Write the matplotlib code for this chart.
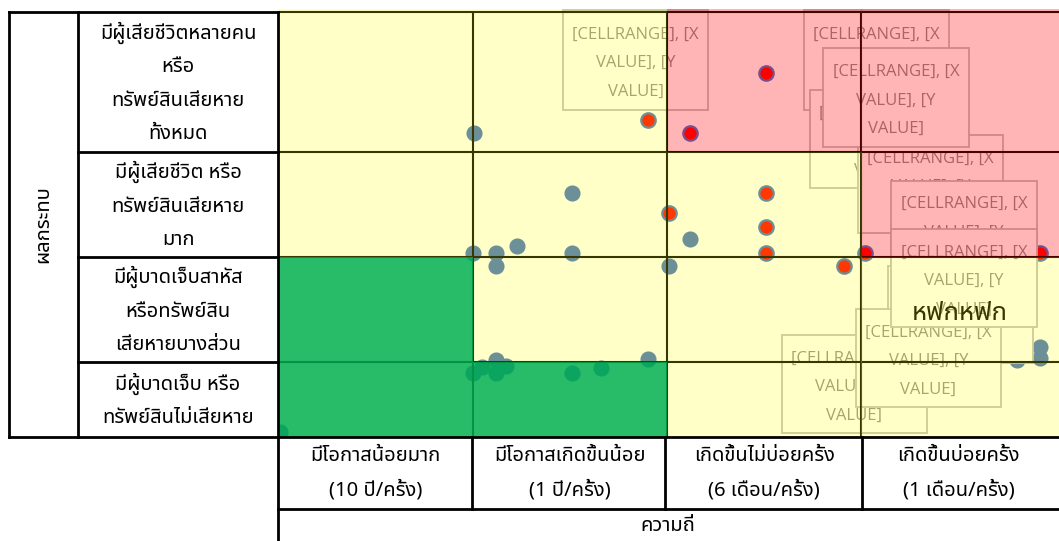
import matplotlib
matplotlib.use('Agg')
import matplotlib.pyplot as plt
from matplotlib import font_manager
from matplotlib.patches import Rectangle

# ตารางความเสี่ยง (ผลกระทบ x ความถี่)
impact_labels = ['มีผู้เสียชีวิตหลายคน\nหรือ\nทรัพย์สินเสียหาย\nทั้งหมด',
                 'มีผู้เสียชีวิต หรือ\nทรัพย์สินเสียหาย\nมาก',
                 'มีผู้บาดเจ็บสาหัส\nหรือทรัพย์สิน\nเสียหายบางส่วน',
                 'มีผู้บาดเจ็บ หรือ\nทรัพย์สินไม่เสียหาย']
freq_labels = ['มีโอกาสน้อยมาก\n(10 ปี/ครั้ง)',
               'มีโอกาสเกิดขึ้นน้อย\n(1 ปี/ครั้ง)',
               'เกิดขึ้นไม่บ่อยครั้ง\n(6 เดือน/ครั้ง)',
               'เกิดขึ้นบ่อยครั้ง\n(1 เดือน/ครั้ง)']
impact_title = 'ผลกระทบ'
freq_title = 'ความถี่'
note_text = 'หฟกหฟก'
point_label = '[CELLRANGE], [X\nVALUE], [Y\nVALUE]'

# ขอบแต่ละช่อง (ล่างขึ้นบน / ซ้ายไปขวา)
impact_edges = [0, 0.75, 1.8, 2.85, 4.25]
freq_edges = [0, 1, 2, 3, 4]

# ระดับความเสี่ยง แถวบนสุด = ผลกระทบสูงสุด
risk_grid = [['M', 'M', 'H', 'H'],
             ['M', 'M', 'M', 'H'],
             ['L', 'M', 'M', 'M'],
             ['L', 'L', 'M', 'M']]

# จุดความเสี่ยงปกติ
blue_x = [1.01, 1.51, 1.00, 1.12, 1.23, 1.51, 1.12, 2.12, 2.01, 1.12, 1.05,
          1.00, 1.12, 1.17, 1.51, 1.66, 1.90, 0.01, 3.02, 3.92, 3.92, 3.80]
blue_y = [3.04, 2.44, 1.84, 1.84, 1.91, 1.84, 1.71, 1.98, 1.71, 0.77, 0.70,
          0.64, 0.64, 0.71, 0.64, 0.69, 0.78, 0.05, 1.20, 0.90, 0.79, 0.77]
# จุดความเสี่ยงสูง
red_x = [1.90, 2.51, 2.12, 2.51, 2.01, 2.51, 2.51, 3.02, 2.91, 3.92]
red_y = [3.17, 3.64, 3.04, 2.44, 2.24, 2.10, 1.84, 1.84, 1.71, 1.84]

# ---- fonts ----
names = {f.name for f in font_manager.fontManager.ttflist}
thai_pref = ['Noto Sans Thai', 'Noto Sans Thai UI', 'Noto Sans Thai Looped',
             'Noto Serif Thai', 'Loma', 'Garuda', 'Waree', 'Sarabun',
             'Norasi', 'Kinnari', 'Tlwg Typo', 'Umpush', 'Sawasdee']
thai_fonts = [n for n in thai_pref if n in names]
thai_fonts += sorted(n for n in names if 'Thai' in n and n not in thai_fonts)
THAI = thai_fonts + ['DejaVu Sans']
LATIN = ['Open Sans', 'DejaVu Sans']

W, H = 1059, 541
fig = plt.figure(figsize=(W / 100, H / 100), dpi=100)

# พื้นที่กราฟ (พิกเซล 278..1059 x 9..437)
x_unit = 194.5
y_unit = 100.0
ax = fig.add_axes([278 / W, (H - 437) / H, (W - 278) / W, (437 - 9) / H], zorder=1)
xmax = (W - 278) / x_unit
ymax = (437 - 9) / y_unit
ax.set_xlim(0, xmax)
ax.set_ylim(0, ymax)
ax.set_axis_off()

# แกนพิกเซลสำหรับตารางและข้อความ
fr = fig.add_axes([0, 0, 1, 1], zorder=5)
fr.set_xlim(0, W)
fr.set_ylim(H, 0)
fr.set_axis_off()
fr.patch.set_alpha(0)

# จุดข้อมูล
ax.scatter(blue_x, blue_y, s=108, color='#4472C4', edgecolors='#4472C4',
           linewidths=1.2, zorder=3)
ax.scatter(red_x, red_y, s=108, color='#FF0000', edgecolors='#4472C4',
           linewidths=1.6, zorder=3)

# ป้ายข้อมูลที่ซ้อนกัน (left, top, right, bottom เป็นพิกเซล)
label_boxes = [(563, 10, 708, 110), (804, 10, 949, 110), (810, 90, 955, 188),
               (858, 135, 1003, 233), (823, 48, 969, 147), (891, 181, 1037, 278),
               (888, 266, 1033, 363), (782, 335, 927, 433), (856, 309, 1001, 407),
               (891, 229, 1037, 327)]
for i, (l, t, r, b) in enumerate(label_boxes):
    ax.add_patch(Rectangle((l, t), r - l, b - t, transform=fr.transData,
                           facecolor='white', edgecolor='#BEBEBE', lw=1.3,
                           zorder=5 + i * 0.01))
    ax.text((l + r) / 2, (t + b) / 2 + 3, point_label, transform=fr.transData,
            ha='center', va='center', fontsize=12, color='#8C8C8C',
            family=LATIN, linespacing=2.05, zorder=5 + i * 0.01 + 0.005)
ax.text(960, 313, note_text, transform=fr.transData, ha='center', va='center',
        fontsize=18.5, fontweight='bold', color='black', family=THAI, zorder=9)

# เส้นแบ่งช่อง
ax.vlines(freq_edges[1:4], 0, impact_edges[-1], colors='black', lw=1.5, zorder=8)
ax.hlines(impact_edges[1:], 0, xmax, colors='black', lw=1.5, zorder=8)

# สีระดับความเสี่ยง (ทับแบบโปร่งแสง)
level_style = {'H': ('#FF0000', 0.29), 'M': ('#FFFF00', 0.22), 'L': ('#02AF4E', 0.85)}
for r, row in enumerate(risk_grid):
    y0 = impact_edges[3 - r]
    y1 = impact_edges[4 - r] if r > 0 else ymax
    for c, level in enumerate(row):
        x0 = freq_edges[c]
        x1 = freq_edges[c + 1] if c < 3 else xmax
        col, a = level_style[level]
        ax.add_patch(Rectangle((x0, y0), x1 - x0, y1 - y0, facecolor=col,
                               alpha=a, lw=0, zorder=10))

# ตาราง
lw = 2.0
row_px = [12, 152, 257, 362, 437]
col_px = [278, 472, 665, 862]
fr.plot([9, 278], [12, 12], color='black', lw=lw)
fr.plot([9, 9], [12, 437], color='black', lw=lw)
fr.plot([78, 78], [12, 437], color='black', lw=lw)
fr.plot([278, 278], [12, H], color='black', lw=lw)
for y in row_px[1:4]:
    fr.plot([78, 278], [y, y], color='black', lw=lw)
fr.plot([9, W], [437, 437], color='black', lw=lw)
for x in col_px[1:]:
    fr.plot([x, x], [437, 509], color='black', lw=lw)
fr.plot([278, W], [509, 509], color='black', lw=lw)

fs = 14.5
for i, lab in enumerate(impact_labels):
    fr.text(178, (row_px[i] + row_px[i + 1]) / 2 + 1, lab, ha='center', va='center',
            fontsize=fs, family=THAI, linespacing=1.9)
for i, lab in enumerate(freq_labels):
    fr.text(278 + x_unit * (i + 0.5), 473, lab, ha='center', va='center',
            fontsize=fs, family=THAI, linespacing=1.9)
fr.text(43, 224, impact_title, ha='center', va='center', rotation=90,
        fontsize=fs, family=THAI)
fr.text(668, 526, freq_title, ha='center', va='center', fontsize=fs, family=THAI)

fig.savefig('out.png', dpi=100)
